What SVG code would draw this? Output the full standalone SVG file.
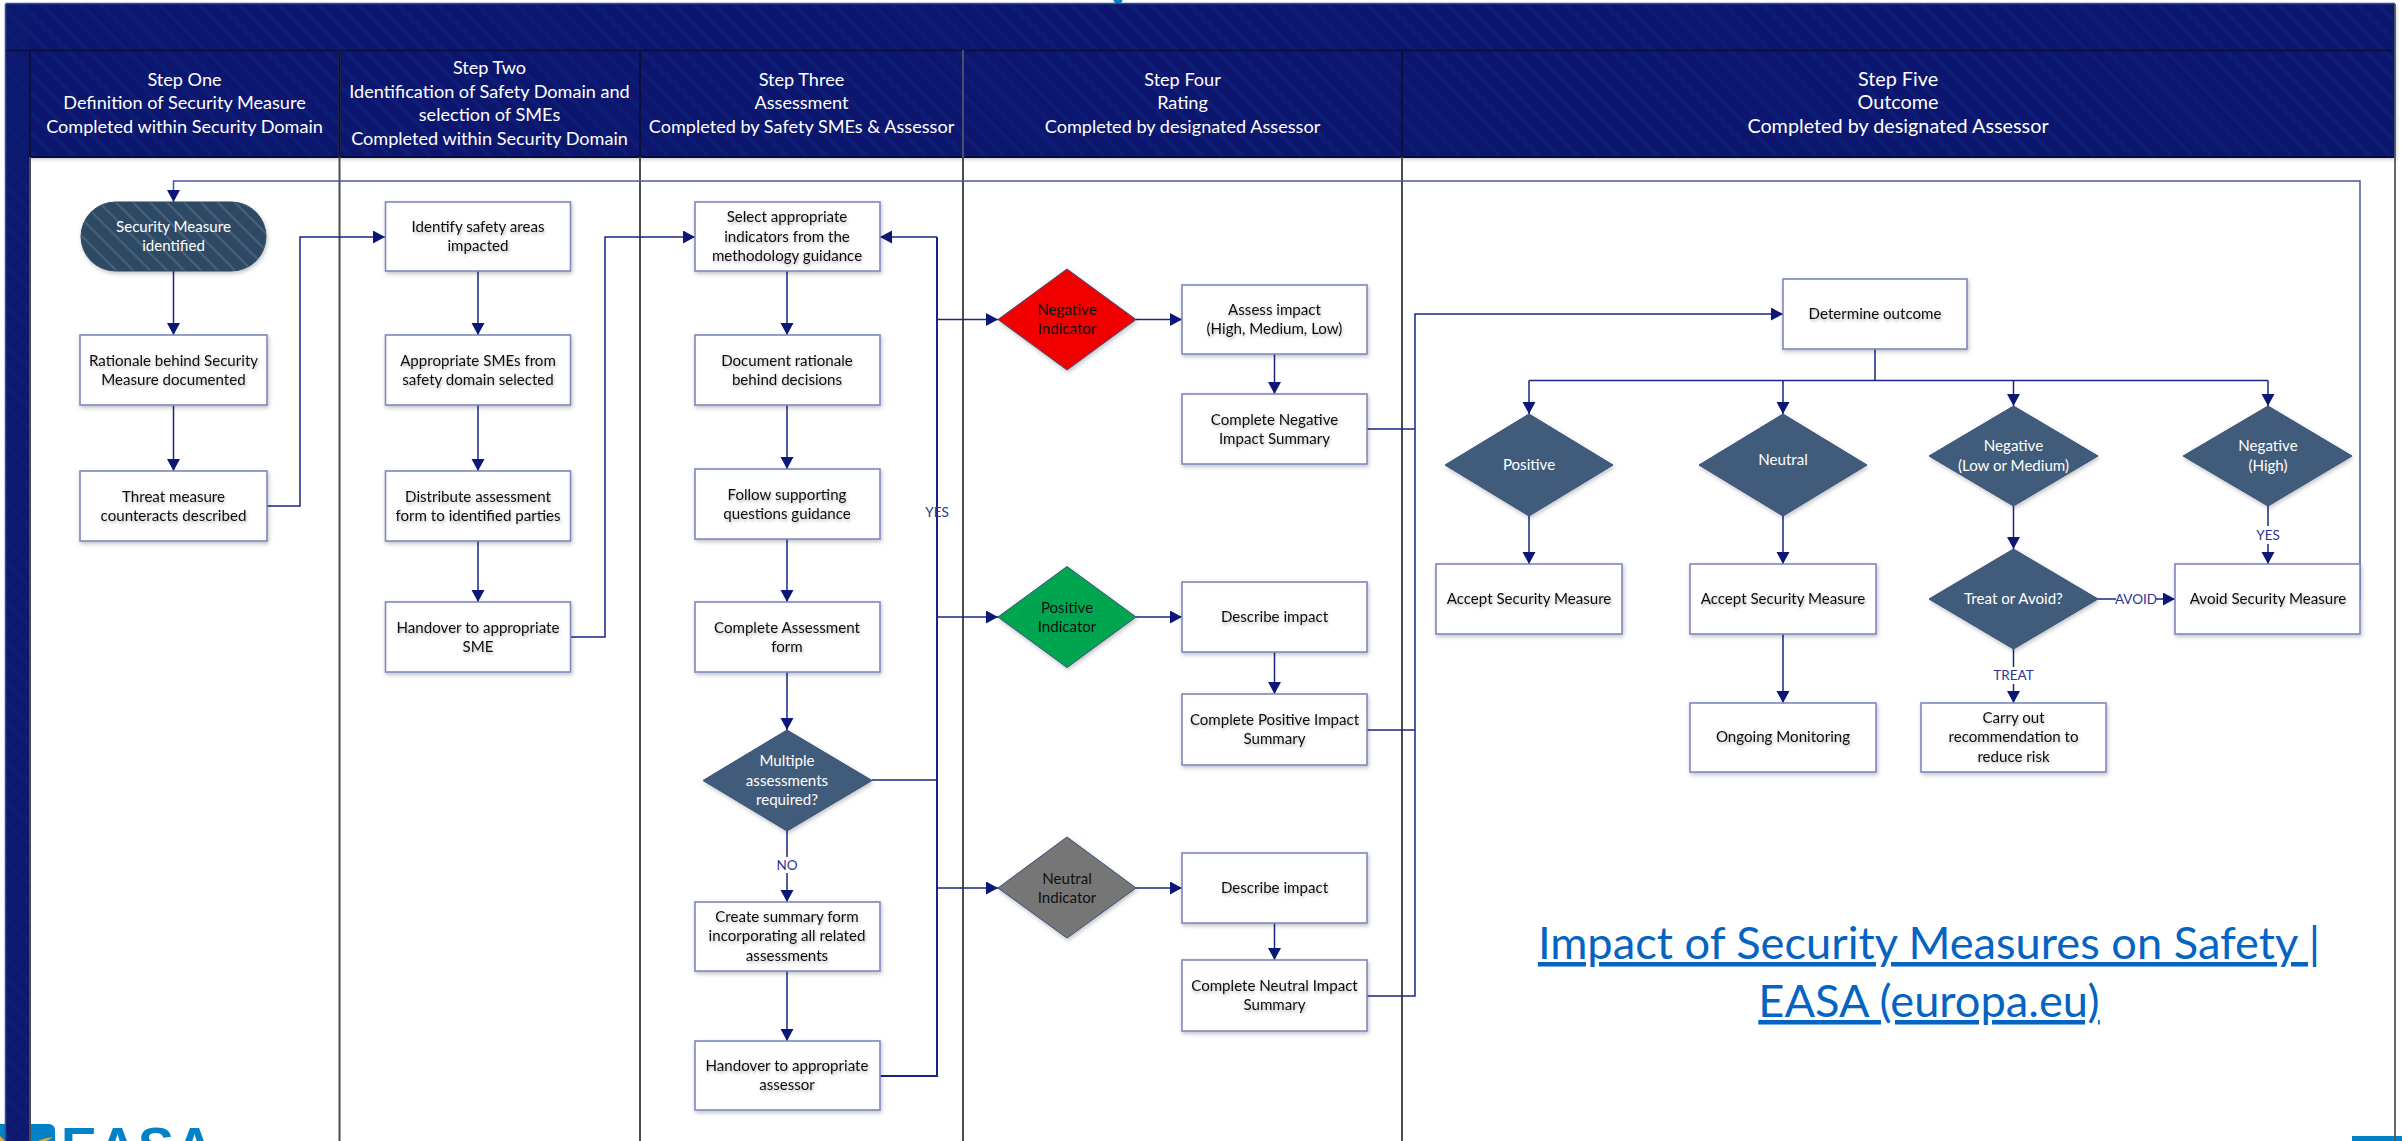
<svg xmlns="http://www.w3.org/2000/svg" width="2402" height="1141" viewBox="0 0 2402 1141">
<style>
text{font-family:"Lato","Liberation Sans",sans-serif}
.h{font-size:18.100px;fill:#fff;text-anchor:middle}
.h5{font-size:19.800px;fill:#fff;text-anchor:middle}
.n{font-size:15.100px;fill:#111;text-anchor:middle;filter:url(#ts)}
.d{font-size:15.100px;fill:#fff;text-anchor:middle}
.k{font-size:15.100px;fill:#111;text-anchor:middle}
.l{font-size:13.500px;fill:#2a3596;text-anchor:middle}
.box{fill:#fff;stroke:#7e87bd;stroke-width:1.600;filter:url(#sh)}
.dia{fill:#3f5c7a;stroke:#37507f;stroke-width:1;filter:url(#sh)}
.c{fill:none;stroke:#1a2582;stroke-width:1.500}
.a{marker-end:url(#ah)}
.lane{stroke:#4c4c4c;stroke-width:2}
.bw{fill:#fff}
.link{font-size:45.200px;fill:#0563c1;text-anchor:middle;text-decoration:underline}
</style>
<defs>
<marker id="ah" markerUnits="userSpaceOnUse" markerWidth="14" markerHeight="14" refX="12" refY="6.500" orient="auto"><path d="M0 0L12 6.500L0 13Z" fill="#0c1877"/></marker>
<pattern id="band" width="14" height="14" patternUnits="userSpaceOnUse" patternTransform="rotate(45)"><rect width="14" height="14" fill="#0c196e"/><rect width="14" height="4" fill="#0e1c74"/></pattern>
<pattern id="pill" width="12" height="12" patternUnits="userSpaceOnUse" patternTransform="rotate(45)"><rect width="12" height="12" fill="#2f4a63"/><rect width="12" height="2" fill="#47627a"/></pattern>
<filter id="sh" x="-10%" y="-10%" width="125%" height="130%"><feDropShadow dx="1" dy="2" stdDeviation="2" flood-color="#000" flood-opacity=".25"/></filter>
<filter id="ts" x="-10%" y="-20%" width="120%" height="160%"><feDropShadow dx="1" dy="2" stdDeviation="1.500" flood-color="#000" flood-opacity=".3"/></filter>
</defs>
<rect width="2402" height="1141" fill="#fff"/>
<g id="logo">
<rect x="-12" y="1124" width="67" height="30" rx="6" fill="#0082c8"/>
<path d="M38 1141Q44 1138 53 1137Q49 1140 46 1141Z M0 1141L0 1136L5 1141Z" fill="#f5a623"/>
<text x="61" y="1165" font-size="54" font-weight="700" letter-spacing="1" style="font-family:'Liberation Sans',sans-serif" fill="#0082c8">EASA</text>
<rect x="2352" y="1136" width="50" height="5" fill="#0082c8"/>
<path d="M1113.500 0H1122.500Q1122 3.500 1118 3.500Q1114 3.500 1113.500 0Z" fill="#0082c8"/>
</g>
<g id="frame">
<rect x="6" y="4" width="2389" height="153" fill="url(#band)" filter="url(#sh)"/>
<rect x="6" y="4" width="24" height="1137" fill="url(#band)"/>
<path d="M5.500 4V1141M5.500 3.500H2395" stroke="#3a4a8c" stroke-width="1.500" fill="none"/>
<path d="M6 50.500H2395" stroke="#0a0f3c" stroke-width="1.500"/>
<path d="M30 157H2395" stroke="#060c40" stroke-width="2"/>
<path d="M2395 4V1141" stroke="#4c5a5c" stroke-width="1.800"/>
<path d="M30 50V1141M339.500 50V1141M640 50V1141M963 50V1141M1402 50V1141" class="lane"/>
<path d="M30 50V157M339.500 50V157M640 50V157M1402 50V157" stroke="#0a0f3c" stroke-width="2"/>
<path d="M963 50V157" stroke="#4a4f6a" stroke-width="2"/>
</g>
<g id="headers">
<text class="h" x="184.500" y="86">Step One</text><text class="h" x="184.500" y="109">Definition of Security Measure</text><text class="h" x="184.500" y="133">Completed within Security Domain</text>
<text class="h" x="489.500" y="74">Step Two</text><text class="h" x="489.500" y="98">Identification of Safety Domain and</text><text class="h" x="489.500" y="121">selection of SMEs</text><text class="h" x="489.500" y="145">Completed within Security Domain</text>
<text class="h" x="801.500" y="86">Step Three</text><text class="h" x="801.500" y="109">Assessment</text><text class="h" x="801.500" y="133">Completed by Safety SMEs &amp; Assessor</text>
<text class="h" x="1182.500" y="86">Step Four</text><text class="h" x="1182.500" y="109">Rating</text><text class="h" x="1182.500" y="133">Completed by designated Assessor</text>
<text class="h5" x="1898" y="86">Step Five</text><text class="h5" x="1898" y="109">Outcome</text><text class="h5" x="1898" y="133">Completed by designated Assessor</text>
</g>
<g id="connectors">
<path class="c a" d="M173.500 271V335"/><path class="c a" d="M173.500 406V471"/>
<path class="c a" d="M267 506H300V237H385"/>
<path class="c a" d="M478 271V335"/><path class="c a" d="M478 405V471"/><path class="c a" d="M478 541V602"/>
<path class="c a" d="M571 637H605V237H695"/>
<path class="c a" d="M787 271V335"/><path class="c a" d="M787 405V469"/><path class="c a" d="M787 539V602"/><path class="c a" d="M787 672V730"/>
<path class="c a" d="M787 831V902"/><path class="c a" d="M787 971V1041"/>
<path class="c" d="M880 1076H937V237" style="stroke-width:2"/><path class="c a" d="M937 237H880"/>
<path class="c" d="M872 780H937"/>
<path class="c a" d="M937 319.500H998"/><path class="c a" d="M937 617H998"/><path class="c a" d="M937 888H998"/>
<path class="c a" d="M1136 319.500H1182"/><path class="c a" d="M1136 617H1182"/><path class="c a" d="M1136 888H1182"/>
<path class="c a" d="M1274.500 354V394"/><path class="c a" d="M1274.500 652V694"/><path class="c a" d="M1274.500 923V960"/>
<path class="c" d="M1367 429H1415M1367 730H1415"/>
<path class="c a" d="M1367 996H1415V314H1783"/>
<path class="c" d="M1875 349V380.500"/>
<path class="c" d="M1529 380.500H2268"/>
<path class="c a" d="M1529 380.500V414"/><path class="c a" d="M1783 380.500V414"/><path class="c a" d="M2013.500 380.500V406"/><path class="c a" d="M2268 380.500V406"/>
<path class="c a" d="M1529 516V564"/><path class="c a" d="M1783 516V564"/><path class="c a" d="M1783 634V703"/>
<path class="c a" d="M2013.500 506V549"/><path class="c a" d="M2268 506V564"/><path class="c a" d="M2013.500 649V703"/><path class="c a" d="M2098 599H2175"/>
<path class="c a" style="stroke:#4a55a0" d="M2360 599V181H173.500V202"/>
</g>
<g id="labels">
<text class="l" x="937" y="517">YES</text>
<rect class="bw" x="775" y="857" width="24" height="16"/><text class="l" x="787" y="870">NO</text>
<rect class="bw" x="2254" y="526" width="28" height="18"/><text class="l" x="2268" y="540">YES</text>
<rect class="bw" x="1995" y="667" width="37" height="17"/><text class="l" x="2013.500" y="680">TREAT</text>
<rect class="bw" x="2116" y="591" width="40" height="16"/><text class="l" x="2136" y="604">AVOID</text>
</g>
<g id="start"><rect x="81" y="202" width="185" height="69" rx="34.500" fill="url(#pill)" stroke="#2f4a63" filter="url(#sh)"/><text class="d" x="173.500" y="232">Security Measure</text><text class="d" x="173.500" y="251">identified</text></g>
<g id="rationale"><rect class="box" x="80" y="335" width="187" height="70"/><text class="n" x="173.500" y="366">Rationale behind Security</text><text class="n" x="173.500" y="385">Measure documented</text></g>
<g id="threat"><rect class="box" x="80" y="471" width="187" height="70"/><text class="n" x="173.500" y="502">Threat measure</text><text class="n" x="173.500" y="521">counteracts described</text></g>
<g id="identify"><rect class="box" x="385.500" y="202" width="185" height="69"/><text class="n" x="478" y="232">Identify safety areas</text><text class="n" x="478" y="251">impacted</text></g>
<g id="smes"><rect class="box" x="385.500" y="335" width="185" height="70"/><text class="n" x="478" y="366">Appropriate SMEs from</text><text class="n" x="478" y="385">safety domain selected</text></g>
<g id="distribute"><rect class="box" x="385.500" y="471" width="185" height="70"/><text class="n" x="478" y="502">Distribute assessment</text><text class="n" x="478" y="521">form to identified parties</text></g>
<g id="handover-sme"><rect class="box" x="385.500" y="602" width="185" height="70"/><text class="n" x="478" y="633">Handover to appropriate</text><text class="n" x="478" y="652">SME</text></g>
<g id="select"><rect class="box" x="695" y="202" width="185" height="69"/><text class="n" x="787" y="222">Select appropriate</text><text class="n" x="787" y="242">indicators from the</text><text class="n" x="787" y="261">methodology guidance</text></g>
<g id="document"><rect class="box" x="695" y="335" width="185" height="70"/><text class="n" x="787" y="366">Document rationale</text><text class="n" x="787" y="385">behind decisions</text></g>
<g id="follow"><rect class="box" x="695" y="469" width="185" height="70"/><text class="n" x="787" y="500">Follow supporting</text><text class="n" x="787" y="519">questions guidance</text></g>
<g id="complete-form"><rect class="box" x="695" y="602" width="185" height="70"/><text class="n" x="787" y="633">Complete Assessment</text><text class="n" x="787" y="652">form</text></g>
<g id="multiple"><path class="dia" d="M787 730L872 780.500L787 831L703 780.500Z"/><text class="d" x="787" y="766">Multiple</text><text class="d" x="787" y="785.500">assessments</text><text class="d" x="787" y="805">required?</text></g>
<g id="summary"><rect class="box" x="695" y="902" width="185" height="69"/><text class="n" x="787" y="922">Create summary form</text><text class="n" x="787" y="941">incorporating all related</text><text class="n" x="787" y="961">assessments</text></g>
<g id="handover-assessor"><rect class="box" x="695" y="1041" width="185" height="69"/><text class="n" x="787" y="1071">Handover to appropriate</text><text class="n" x="787" y="1090">assessor</text></g>
<g id="negative-indicator"><path class="dia" style="fill:#f20000" d="M1067 269L1136 319.500L1067 370L998 319.500Z"/><text class="k" x="1067" y="315">Negative</text><text class="k" x="1067" y="334">Indicator</text></g>
<g id="assess"><rect class="box" x="1182" y="285" width="185" height="69"/><text class="n" x="1274.500" y="315">Assess impact</text><text class="n" x="1274.500" y="334">(High, Medium, Low)</text></g>
<g id="complete-negative"><rect class="box" x="1182" y="394" width="185" height="70"/><text class="n" x="1274.500" y="425">Complete Negative</text><text class="n" x="1274.500" y="444">Impact Summary</text></g>
<g id="positive-indicator"><path class="dia" style="fill:#00a650" d="M1067 566.500L1136 617L1067 667.500L998 617Z"/><text class="k" x="1067" y="612.500">Positive</text><text class="k" x="1067" y="631.500">Indicator</text></g>
<g id="describe-positive"><rect class="box" x="1182" y="582" width="185" height="70"/><text class="n" x="1274.500" y="622">Describe impact</text></g>
<g id="complete-positive"><rect class="box" x="1182" y="694" width="185" height="71"/><text class="n" x="1274.500" y="725">Complete Positive Impact</text><text class="n" x="1274.500" y="744">Summary</text></g>
<g id="neutral-indicator"><path class="dia" style="fill:#767676" d="M1067 837L1136 888L1067 938L998 888Z"/><text class="k" x="1067" y="883.500">Neutral</text><text class="k" x="1067" y="902.500">Indicator</text></g>
<g id="describe-neutral"><rect class="box" x="1182" y="853" width="185" height="70"/><text class="n" x="1274.500" y="893">Describe impact</text></g>
<g id="complete-neutral"><rect class="box" x="1182" y="960" width="185" height="71"/><text class="n" x="1274.500" y="991">Complete Neutral Impact</text><text class="n" x="1274.500" y="1010">Summary</text></g>
<g id="determine"><rect class="box" x="1783" y="279" width="184" height="70"/><text class="n" x="1875" y="319">Determine outcome</text></g>
<g id="positive"><path class="dia" d="M1529 414L1613 465L1529 516L1445 465Z"/><text class="d" x="1529" y="470">Positive</text></g>
<g id="neutral"><path class="dia" d="M1783 414L1867 465L1783 516L1699 465Z"/><text class="d" x="1783" y="465">Neutral</text></g>
<g id="negative-low"><path class="dia" d="M2013.500 406L2098 456L2013.500 506L1929 456Z"/><text class="d" x="2013.500" y="451">Negative</text><text class="d" x="2013.500" y="471">(Low or Medium)</text></g>
<g id="negative-high"><path class="dia" d="M2268 406L2352 456L2268 506L2183 456Z"/><text class="d" x="2268" y="451">Negative</text><text class="d" x="2268" y="471">(High)</text></g>
<g id="accept-positive"><rect class="box" x="1436" y="564" width="186" height="70"/><text class="n" x="1529" y="604">Accept Security Measure</text></g>
<g id="accept-neutral"><rect class="box" x="1690" y="564" width="186" height="70"/><text class="n" x="1783" y="604">Accept Security Measure</text></g>
<g id="monitoring"><rect class="box" x="1690" y="703" width="186" height="69"/><text class="n" x="1783" y="742">Ongoing Monitoring</text></g>
<g id="treat"><path class="dia" d="M2013.500 549L2098 599L2013.500 649L1929 599Z"/><text class="d" x="2013.500" y="604">Treat or Avoid?</text></g>
<g id="avoid"><rect class="box" x="2175" y="564" width="185" height="70"/><text class="n" x="2268" y="604">Avoid Security Measure</text></g>
<g id="carry"><rect class="box" x="1921" y="703" width="185" height="69"/><text class="n" x="2013.500" y="723">Carry out</text><text class="n" x="2013.500" y="742">recommendation to</text><text class="n" x="2013.500" y="762">reduce risk</text></g>
<g id="link"><text class="link" x="1929" y="959">Impact of Security Measures on Safety |</text><text class="link" x="1929" y="1017">EASA (europa.eu)</text></g>
</svg>
